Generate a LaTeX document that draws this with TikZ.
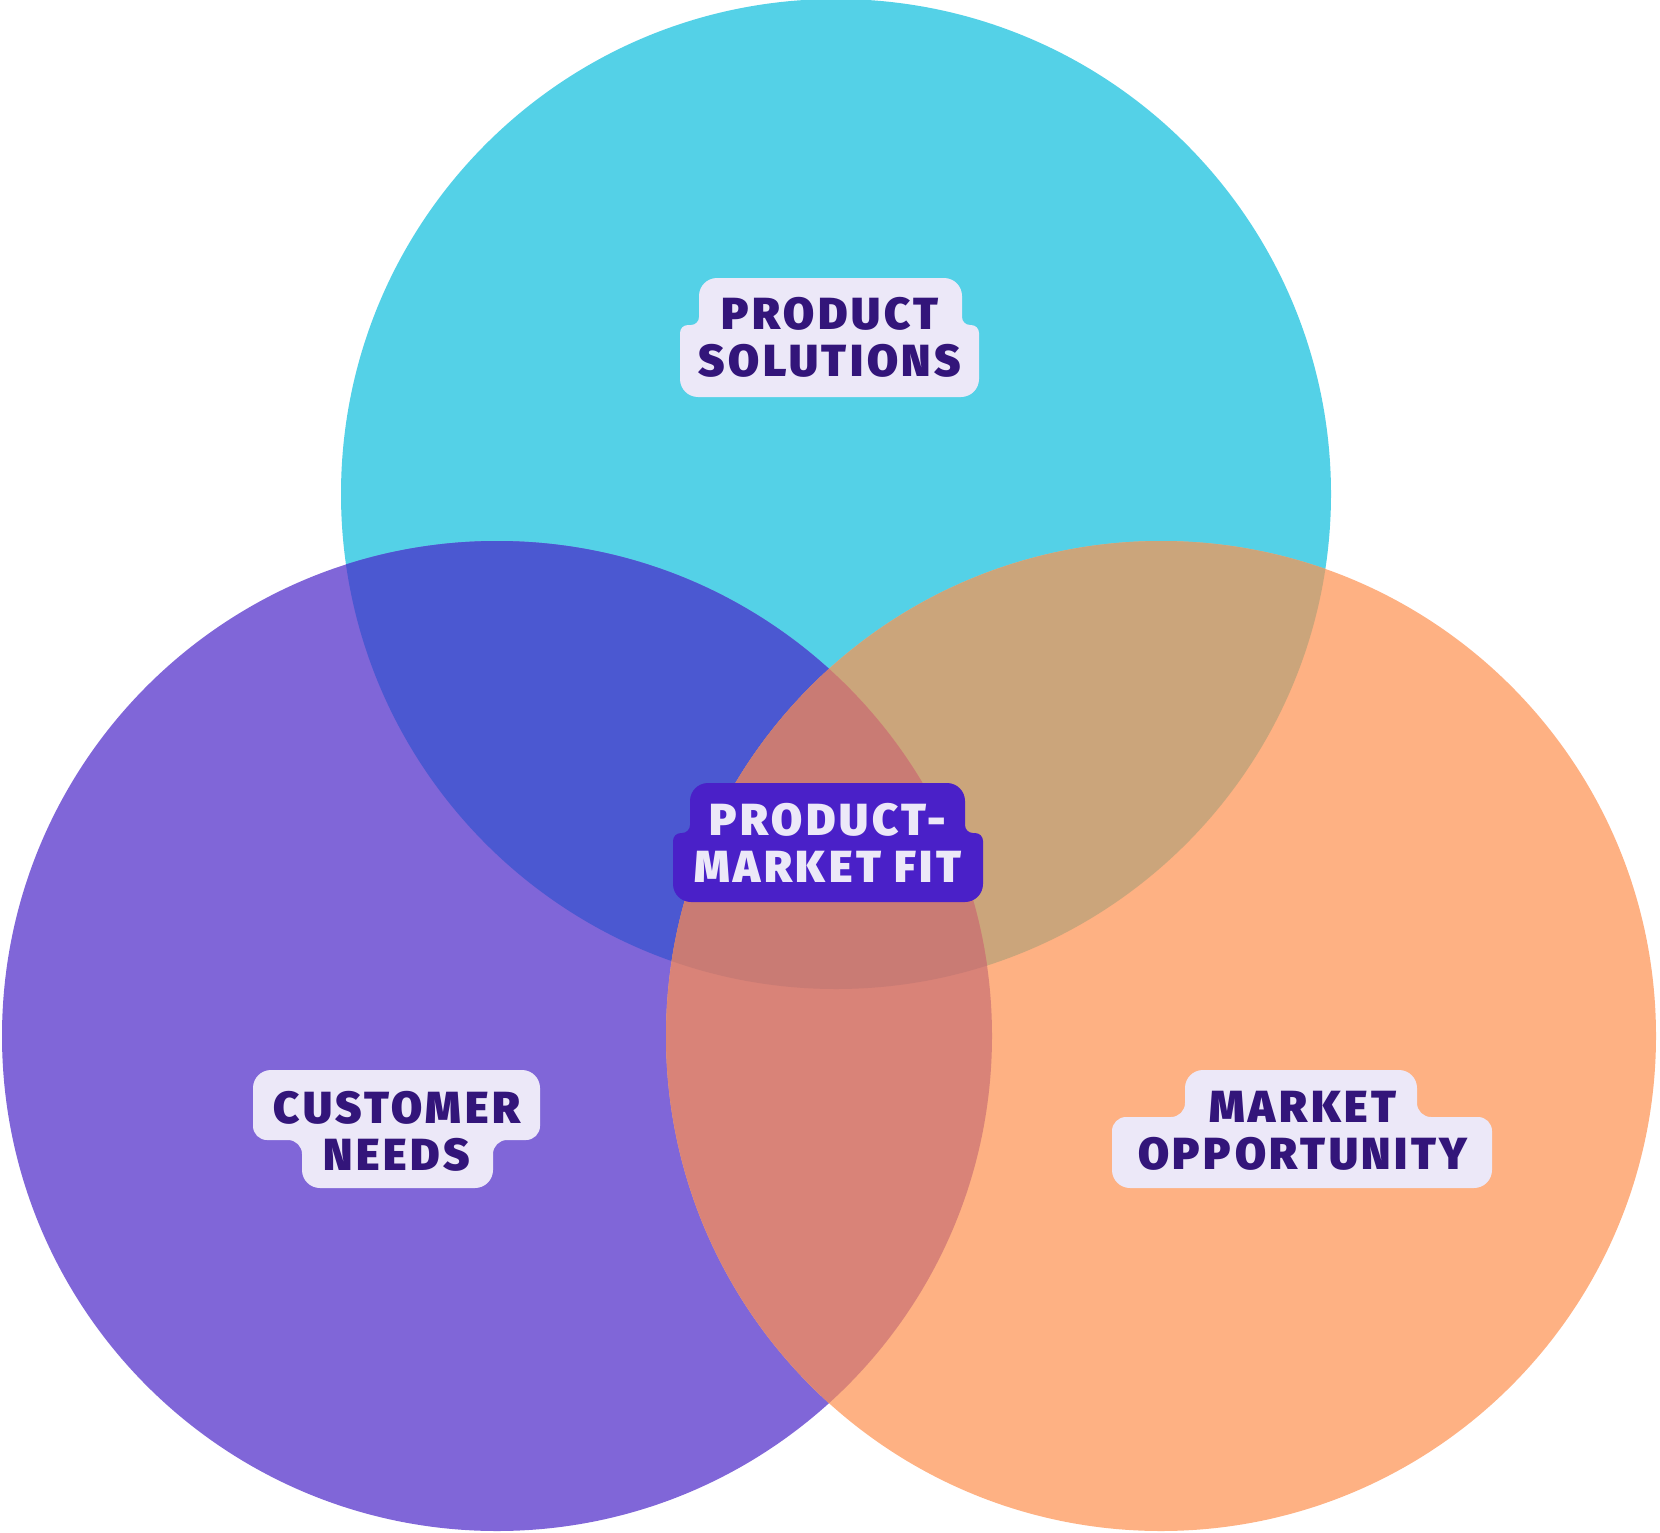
\documentclass[tikz,border=0pt]{standalone}
\usepackage{fontspec}
\usetikzlibrary{positioning}
\newfontfamily\chunkyfont{Fira Sans}[UprightFont={* Black}, LetterSpace=8]
\definecolor{solcyan}{HTML}{54D1E7}
\definecolor{needpurple}{HTML}{8066D8}
\definecolor{opporange}{HTML}{FEB183}
\definecolor{bluemix}{HTML}{4B58D1}
\definecolor{tanmix}{HTML}{CBA57B}
\definecolor{salmonmix}{HTML}{D98378}
\definecolor{coremix}{HTML}{C97B74}
\definecolor{tabfill}{HTML}{ECE8F8}
\definecolor{tabink}{HTML}{33157A}
\definecolor{pmffill}{HTML}{4A20C8}
% label backdrop, narrow line on top: x1 x2 y1 ym x3 x4 y2 steprad
\newcommand{\tabup}[8]{(#1,#3+18) arc[start angle=180,end angle=270,radius=18]
  -- (#2-18,#3) arc[start angle=270,end angle=360,radius=18]
  -- (#2,#4-#8) arc[start angle=180,end angle=90,radius=#8]
  -- (#6-#8,#4) arc[start angle=270,end angle=360,radius=#8]
  -- (#6,#7-18) arc[start angle=0,end angle=90,radius=18]
  -- (#5+18,#7) arc[start angle=90,end angle=180,radius=18]
  -- (#5,#4+#8) arc[start angle=180,end angle=270,radius=#8]
  -- (#1-#8,#4) arc[start angle=90,end angle=0,radius=#8] -- cycle}
% label backdrop, wide line on top
\newcommand{\tabdown}[8]{(#1,#3+18) arc[start angle=180,end angle=270,radius=18]
  -- (#2-18,#3) arc[start angle=270,end angle=360,radius=18]
  -- (#2,#4-#8) arc[start angle=0,end angle=90,radius=#8]
  -- (#6+#8,#4) arc[start angle=270,end angle=180,radius=#8]
  -- (#6,#7-18) arc[start angle=0,end angle=90,radius=18]
  -- (#5+18,#7) arc[start angle=90,end angle=180,radius=18]
  -- (#5,#4+#8) arc[start angle=0,end angle=-90,radius=#8]
  -- (#1+#8,#4) arc[start angle=90,end angle=180,radius=#8] -- cycle}

\begin{document}
\begin{tikzpicture}[
    x=1pt, y=-1pt,
    tab/.style={fill=tabfill},
    tabtext/.style={font=\chunkyfont\fontsize{45}{47}\selectfont, text=tabink, align=center, inner sep=0pt}
  ]
  \useasboundingbox (0,0) rectangle (1660,1533);
  \coordinate (topc) at (836,494);
  \coordinate (leftc) at (497,1036);
  \coordinate (rightc) at (1161,1036);

  % the three sets
  \fill[solcyan] (topc) circle[radius=495];
  \fill[needpurple] (leftc) circle[radius=495];
  \fill[opporange] (rightc) circle[radius=495];

  % overlaps
  \begin{scope}
    \clip (topc) circle[radius=495];
    \fill[bluemix] (leftc) circle[radius=495];
    \fill[tanmix] (rightc) circle[radius=495];
  \end{scope}
  \begin{scope}
    \clip (leftc) circle[radius=495];
    \fill[salmonmix] (rightc) circle[radius=495];
    \clip (rightc) circle[radius=495];
    \fill[coremix] (topc) circle[radius=495];
  \end{scope}

  % labels
  \fill[tab] \tabup{699}{962}{278}{325}{680}{979}{397}{8};
  \node[tabtext] (solutions) at (830,337) {PRODUCT\\SOLUTIONS};

  \fill[pmffill] \tabup{690}{965}{783}{833}{673}{983}{902}{8};
  \node[tabtext, text=tabfill] (fit) at (828,843) {PRODUCT-\\MARKET FIT};

  \fill[tab] \tabdown{253}{540}{1070}{1140}{302}{493}{1188}{14};
  \node[tabtext] (needs) at (397,1131) {CUSTOMER\\NEEDS};

  \fill[tab] \tabup{1185}{1417}{1070}{1117}{1112}{1492}{1188}{14};
  \node[tabtext] (opportunity) at (1303,1131) {MARKET\\OPPORTUNITY};
\end{tikzpicture}
\end{document}
